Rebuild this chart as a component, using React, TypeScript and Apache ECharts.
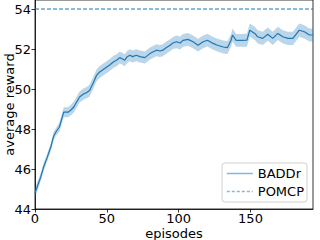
import React, { useEffect, useRef } from "react";
import * as echarts from "echarts";

const episodes = [0, 2, 4, 6, 8.5, 11, 13, 15, 17, 20, 23, 25, 27, 29, 31, 34, 36, 38, 40.5, 42.8, 45, 47, 50, 52, 54.5, 57, 59, 61, 62.5, 64, 66, 68, 70.5, 73, 76.5, 80, 82, 84.5, 87, 89, 91, 94, 96, 98.5, 101, 103, 106.5, 110, 113.5, 117, 120, 124, 127, 131, 134, 136.5, 137.5, 140, 143.5, 147.5, 149.5, 153, 155, 158.5, 162, 165.5, 169, 172.5, 176, 179.5, 184, 187.5, 191, 193.5];
const baddrMean = [44.8, 45.2, 45.6, 46.1, 46.58, 47.1, 47.65, 47.9, 48.1, 48.84, 48.84, 48.95, 49.1, 49.35, 49.6, 49.76, 49.82, 49.93, 50.3, 50.68, 50.85, 50.95, 51.1, 51.2, 51.35, 51.45, 51.57, 51.5, 51.44, 51.6, 51.69, 51.62, 51.69, 51.62, 51.57, 51.77, 51.85, 51.94, 51.9, 51.94, 52.05, 52.19, 52.3, 52.36, 52.3, 52.43, 52.48, 52.36, 52.19, 52.36, 52.44, 52.28, 52.19, 52.1, 52.07, 52.44, 52.7, 52.43, 52.43, 52.44, 52.94, 52.78, 52.61, 52.53, 52.74, 52.53, 52.78, 52.61, 52.53, 52.53, 52.94, 52.86, 52.7, 52.7];
const baddrSpread = [0.25, 0.22, 0.2, 0.2, 0.2, 0.2, 0.2, 0.2, 0.22, 0.25, 0.25, 0.26, 0.27, 0.27, 0.28, 0.28, 0.28, 0.3, 0.3, 0.3, 0.3, 0.3, 0.3, 0.3, 0.3, 0.3, 0.3, 0.3, 0.3, 0.3, 0.3, 0.3, 0.3, 0.3, 0.3, 0.3, 0.3, 0.3, 0.3, 0.3, 0.3, 0.3, 0.3, 0.32, 0.32, 0.32, 0.32, 0.32, 0.32, 0.32, 0.32, 0.32, 0.32, 0.32, 0.32, 0.32, 0.32, 0.32, 0.32, 0.33, 0.33, 0.33, 0.33, 0.33, 0.33, 0.33, 0.33, 0.33, 0.33, 0.33, 0.33, 0.33, 0.33, 0.33];
const pomcpValue = 54;
const xTicks = [0, 50, 100, 150];
const yTicks = [44, 46, 48, 50, 52, 54];

const FONT = "DejaVu Sans";
const BLUE = "#1f77b4";

export default function App() {
  const ref = useRef<HTMLDivElement>(null);
  useEffect(() => {
    const chart = echarts.init(ref.current!, null, { renderer: "svg" });
    const lower = episodes.map((e, i) => [e, baddrMean[i] - baddrSpread[i]]);
    const upper = episodes.map((e, i) => [e, baddrMean[i] + baddrSpread[i]]);
    const mean = episodes.map((e, i) => [e, baddrMean[i]]);
    const xMax = episodes[episodes.length - 1];
    const pomcp = [[0, pomcpValue], [xMax, pomcpValue]];
    const axisCommon = {
      axisLine: { show: true, lineStyle: { color: "#000", width: 0.8 } },
      splitLine: { show: false },
      nameLocation: "middle" as const,
      nameMoveOverlap: false,
      nameTextStyle: { fontSize: 13, lineHeight: 12, fontFamily: FONT, color: "#000" },
    };
    chart.setOption({
      animation: false,
      grid: { left: 35, right: 7, top: 0, bottom: 31, show: true, borderColor: "#000", borderWidth: 0.8, backgroundColor: "#fff", containLabel: false, outerBoundsMode: "none" },
      xAxis: {
        ...axisCommon,
        type: "value",
        min: 0,
        max: xMax,
        name: "episodes",
        nameGap: 18.5,
        axisTick: { show: true, length: 3.5, customValues: xTicks, lineStyle: { color: "#000", width: 0.8 } },
        axisLabel: { customValues: xTicks, fontSize: 13, lineHeight: 12, fontFamily: FONT, color: "#000", margin: 3.5 },
      },
      yAxis: {
        ...axisCommon,
        type: "value",
        min: 44,
        max: 54.45,
        name: "average reward",
        nameGap: 20,
        axisTick: { show: true, length: 3.5, customValues: yTicks, lineStyle: { color: "#000", width: 0.8 } },
        axisLabel: { customValues: yTicks, fontSize: 13, fontFamily: FONT, color: "#000", margin: 4 },
      },
      legend: {
        orient: "vertical",
        right: 13,
        bottom: 38,
        itemWidth: 26,
        itemHeight: 13,
        itemGap: 5,
        padding: [4, 3, 4, 4],
        backgroundColor: "#fff",
        borderColor: "#d0d0d0",
        borderWidth: 1,
        borderRadius: 3,
        textStyle: { fontSize: 13, fontFamily: FONT, color: "#000" },
        data: [
          { name: "BADDr", itemStyle: { opacity: 0 }, lineStyle: { color: "#86b6da", width: 1.5 } },
          { name: "POMCP", itemStyle: { opacity: 0 }, lineStyle: { color: "#86b6da", width: 1.5, type: [3, 2] } },
        ],
      },
      series: [
        {
          type: "custom",
          name: "band",
          silent: true,
          data: [[episodes[0], baddrMean[0]]],
          renderItem: (params: any, api: any) => {
            const pts = upper.map((p) => api.coord(p)).concat(lower.slice().reverse().map((p) => api.coord(p)));
            return { type: "polygon", shape: { points: pts }, style: { fill: "rgba(31,119,180,0.3)", stroke: "none" } };
          },
          z: 1,
        },
        { type: "line", name: "BADDr", data: mean, symbol: "none", showSymbol: false, lineStyle: { color: BLUE, width: 1.2 }, itemStyle: { color: BLUE }, z: 3 },
        { type: "line", name: "POMCP", data: pomcp, symbol: "none", showSymbol: false, lineStyle: { color: BLUE, width: 1.1, type: [4, 2] }, itemStyle: { color: BLUE }, z: 3 },
      ],
    });
    return () => chart.dispose();
  }, []);
  return <div ref={ref} style={{ position: "absolute", left: 0, top: 0, width: 320, height: 240 }} />;
}
